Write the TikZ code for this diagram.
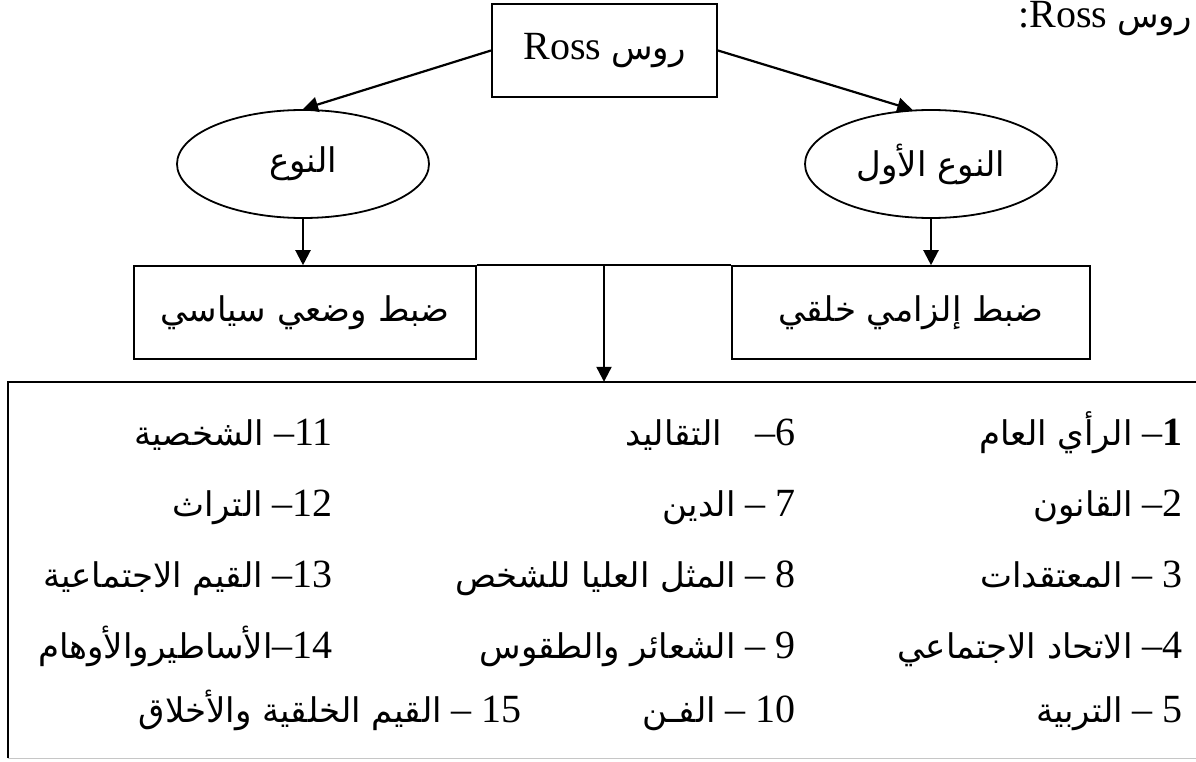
\documentclass[tikz,border=0pt]{standalone}
\usepackage{fontspec}
\setmainfont{Liberation Serif}
\newfontfamily\arabicfont[Script=Arabic,Scale=0.85]{DejaVu Sans}
\TeXXeTstate=1
\usetikzlibrary{shapes.geometric,arrows.meta}
% Arabic run, set right to left
\newcommand{\artxt}[1]{{\arabicfont\beginR #1\endR}}

\tikzset{
  arr/.style={line width=2.2pt,-{Triangle[length=15pt,width=15pt]}},
  headbox/.style={draw,line width=2pt,minimum width=225pt,minimum height=93pt,inner sep=0pt},
  kindoval/.style={draw,ellipse,line width=1.8pt,minimum width=252pt,minimum height=108pt,inner sep=0pt},
  ctrlbox/.style={draw,line width=1.6pt,minimum height=93pt,inner sep=0pt},
  item/.style={anchor=base east,inner sep=0pt}
}

\begin{document}
\begin{tikzpicture}[x=1pt,y=-1pt,font=\fontsize{40}{48}\selectfont]
\useasboundingbox (0,0) rectangle (1196,762);

% heading running off the right edge
\node[anchor=base west,inner sep=0pt] (title) at (1018,28) {:Ross \artxt{روس}};

% root and the two kinds
\node[headbox] (root) at (604.5,50.5) {Ross \artxt{روس}};
\node[kindoval] (lell) at (303,164) {\artxt{النوع}};
\node[kindoval] (rell) at (931,164) {\artxt{النوع الأول}};

\draw[arr] (root.west) -- (lell.north);
\draw[arr] (root.east) -- (rell.109);

% the two kinds of control
\node[ctrlbox,minimum width=342pt] (lrect) at (305,312.5) {\artxt{ضبط وضعي سياسي}};
\node[ctrlbox,minimum width=358pt] (rrect) at (911,312.5) {\artxt{ضبط إلزامي خلقي}};

\draw[arr] (lell.south) -- (lell.south |- lrect.north);
\draw[arr] (rell.south) -- (rell.south |- rrect.north);

% joining line and drop to the list
\draw[line width=1.6pt] (lrect.north east) -- (rrect.north west);
\coordinate (split) at (604,266);

% list of means of control
\node[minimum width=1202pt,minimum height=376pt,inner sep=0pt] (listbox) at (609,570) {};
\draw[line width=2.6pt] (listbox.south west) -- (listbox.north west) -- (listbox.north east);
\draw[line width=1pt,gray!45] (listbox.south west) -- (listbox.south east);
\draw[arr] (split) -- (split |- listbox.north);

% right column
\node[item] (i1) at (1183,445) {\artxt{الرأي العام} –\textbf{1}};
\node[item] (i2) at (1183,516) {\artxt{القانون} –2};
\node[item] (i3) at (1183,587) {\artxt{المعتقدات} – 3};
\node[item] (i4) at (1183,658) {\artxt{الاتحاد الاجتماعي} –4};
\node[item] (i5) at (1183,722) {\artxt{التربية} – 5};

% middle column
\node[item] (i6) at (796,445) {\artxt{التقاليد}\hspace{0.6em} –6};
\node[item] (i7) at (796,516) {\artxt{الدين} – 7};
\node[item] (i8) at (796,587) {\artxt{المثل العليا للشخص} – 8};
\node[item] (i9) at (796,658) {\artxt{الشعائر والطقوس} – 9};
\node[item] (i10) at (796,722) {\artxt{الفـن} – 10};

% left column
\node[item] (i11) at (333,445) {\artxt{الشخصية} –11};
\node[item] (i12) at (333,516) {\artxt{التراث} –12};
\node[item] (i13) at (333,587) {\artxt{القيم الاجتماعية} –13};
\node[item] (i14) at (333,658) {\artxt{الأساطيروالأوهام}–14};
\node[item] (i15) at (522,722) {\artxt{القيم الخلقية والأخلاق} – 15};
\end{tikzpicture}
\end{document}
